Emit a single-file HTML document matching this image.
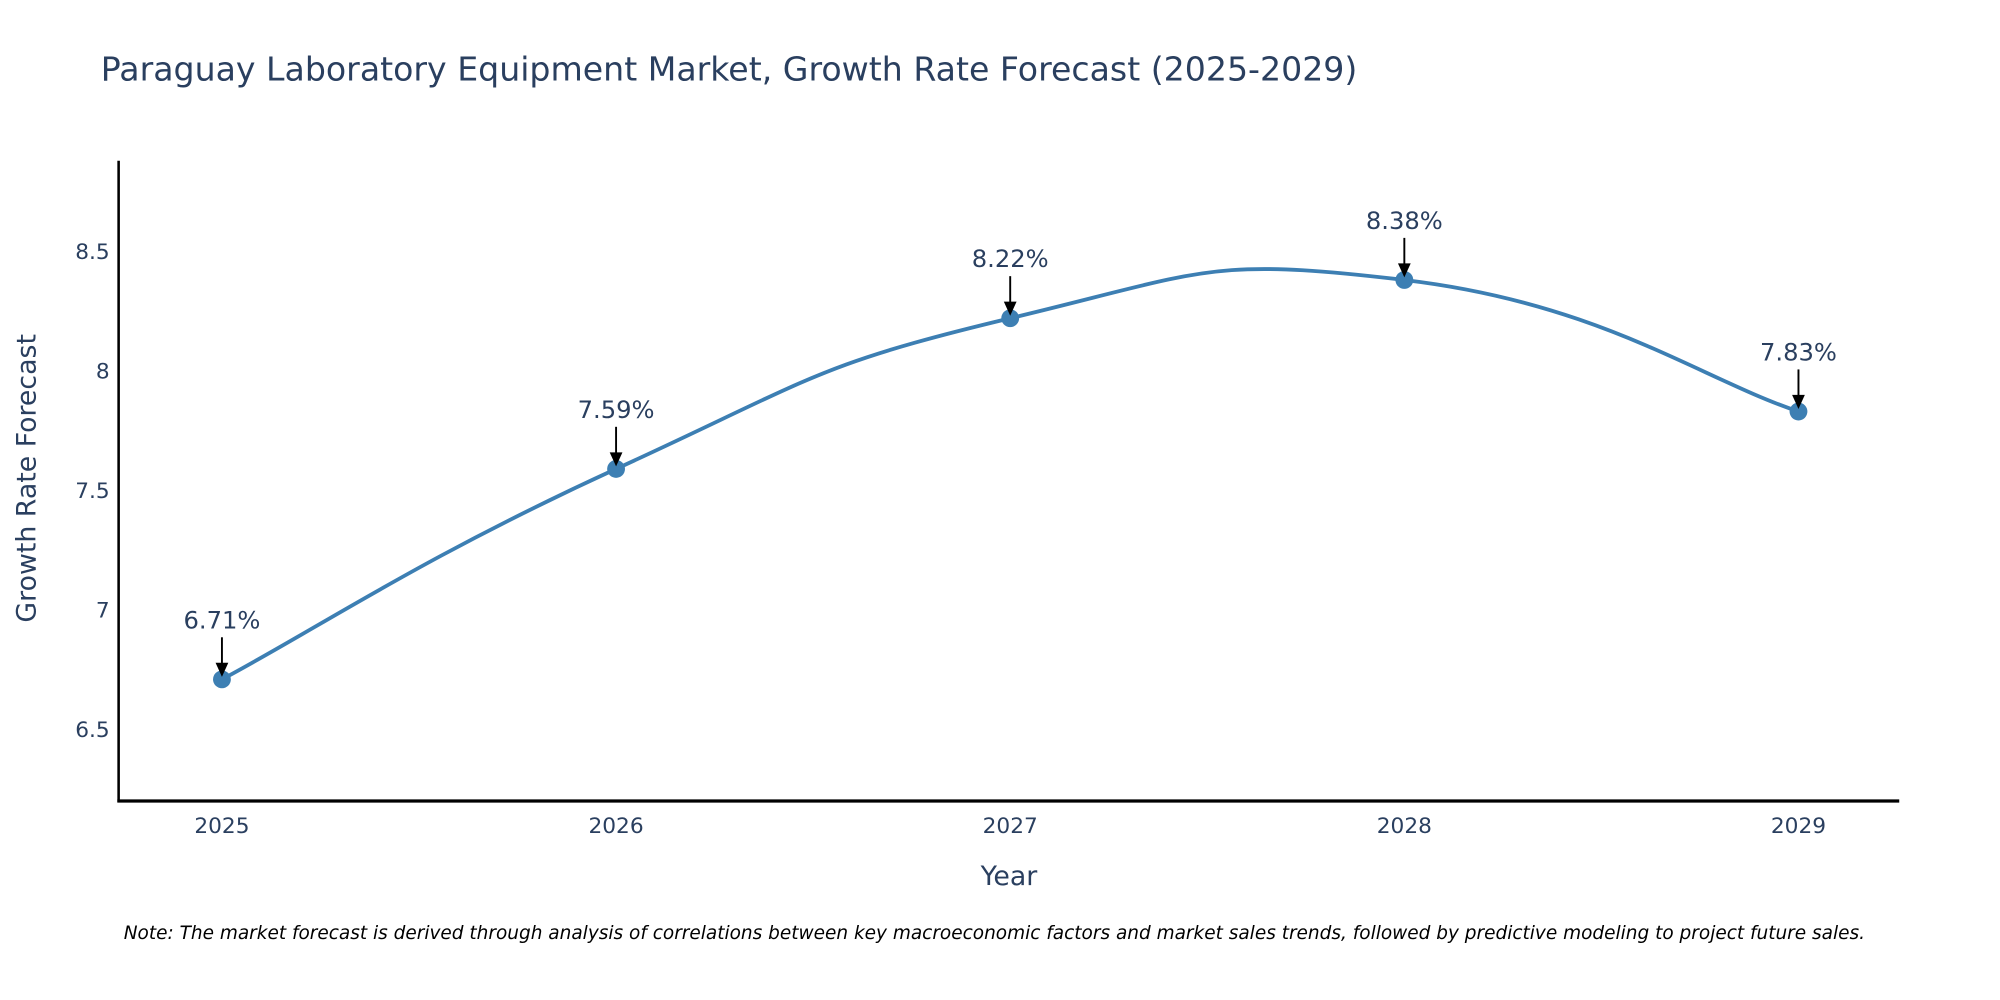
<!DOCTYPE html>
<html><head><meta charset="utf-8"><style>
html,body{margin:0;padding:0;background:#fff;overflow:hidden;}
svg{display:block;font-family:"DejaVu Sans","Liberation Sans",sans-serif;}
</style></head><body>
<svg id="chart" width="2000" height="1000" viewBox="0 0 1568 784" xmlns="http://www.w3.org/2000/svg">
<text x="79" y="63" font-size="26" fill="#2a3f5f">Paraguay Laboratory Equipment Market, Growth Rate Forecast (2025-2029)</text>
<g id="plot"></g>
<line x1="93" y1="126" x2="93" y2="629" stroke="#000" stroke-width="2"/>
<line x1="92" y1="628" x2="1489" y2="628" stroke="#000" stroke-width="2.5"/>
<text x="791" y="694" font-size="21" fill="#2a3f5f" text-anchor="middle">Year</text>
<text transform="translate(28,375) rotate(-90)" font-size="21" fill="#2a3f5f" text-anchor="middle">Growth Rate Forecast</text>
<text x="97" y="736" font-size="14.5" font-style="italic" fill="#000">Note: The market forecast is derived through analysis of correlations between key macroeconomic factors and market sales trends, followed by predictive modeling to project future sales.</text>
</svg>
<script>
const years = [2025, 2026, 2027, 2028, 2029];
const values = [6.71, 7.59, 8.22, 8.38, 7.83];
const labels = ["6.71%", "7.59%", "8.22%", "8.38%", "7.83%"];
const yTicks = [6.5, 7, 7.5, 8, 8.5];
const yTickLabels = ["6.5", "7", "7.5", "8", "8.5"];
const NS = "http://www.w3.org/2000/svg";
const g = document.getElementById("plot");
const xs = v => 174 + (v - 2025) * 309;
const ys = v => 572 - (v - 6.5) * 187.5;
function mk(t, a) { const e = document.createElementNS(NS, t); for (const k in a) e.setAttribute(k, a[k]); g.appendChild(e); return e; }
yTicks.forEach((t, i) => {
  const e = mk("text", {x: 86, y: ys(t) + 6, "font-size": 17, fill: "#2a3f5f", "text-anchor": "end"});
  
  
  e.textContent = yTickLabels[i];
});
years.forEach(y => {
  const e = mk("text", {x: xs(y), y: 653, "font-size": 17, fill: "#2a3f5f", "text-anchor": "middle"});
  
  
  e.textContent = String(y);
});
const P = years.map((y, i) => [xs(y), ys(values[i])]);
let d = "M" + P[0][0] + "," + P[0][1];
const s = 0.5;
for (let i = 0; i < P.length - 1; i++) {
  const p0 = P[Math.max(0, i - 1)], p1 = P[i], p2 = P[i + 1], p3 = P[Math.min(P.length - 1, i + 2)];
  const c1 = [p1[0] + (p2[0] - p0[0]) * s / 2, p1[1] + (p2[1] - p0[1]) * s / 2];
  const c2 = [p2[0] - (p3[0] - p1[0]) * s / 2, p2[1] - (p3[1] - p1[1]) * s / 2];
  d += " C" + c1[0] + "," + c1[1] + " " + c2[0] + "," + c2[1] + " " + p2[0] + "," + p2[1];
}
const line = mk("path", {d: d, fill: "none", stroke: "#3d7fb3", "stroke-width": 3});


P.forEach((p, i) => {
  const c = mk("circle", {cx: p[0], cy: p[1], r: 7, fill: "#3d7fb3"});
  
  
  const a = mk("line", {x1: p[0], y1: p[1] - 33, x2: p[0], y2: p[1] - 12, stroke: "#000", "stroke-width": 1.5});
  
  
  const h = mk("polygon", {points: (p[0]-5)+","+(p[1]-13)+" "+(p[0]+5)+","+(p[1]-13)+" "+p[0]+","+(p[1]-2), fill: "#000"});
  
  
  const t = mk("text", {x: p[0], y: p[1] - 40, "font-size": 19, fill: "#2a3f5f", "text-anchor": "middle"});
  
  
  t.textContent = labels[i];
});
</script>
</body></html>
